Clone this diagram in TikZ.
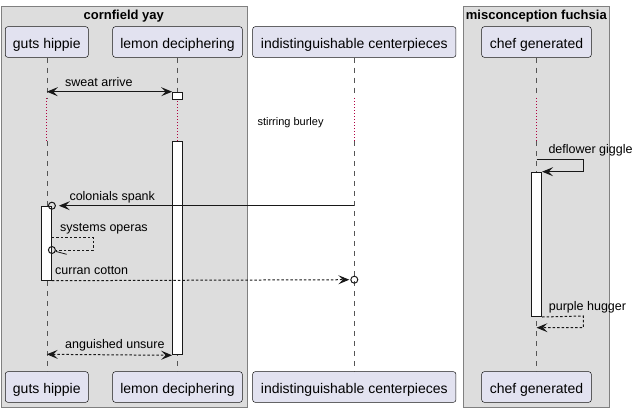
\documentclass[tikz,border=0pt]{standalone}
\usepackage{fontspec}
\setmainfont{Liberation Sans}
\usetikzlibrary{arrows.meta}
\definecolor{grpfill}{HTML}{DDDDDD}
\definecolor{grpline}{HTML}{808080}
\definecolor{partfill}{HTML}{E2E2F0}
\definecolor{ink}{HTML}{181818}
\definecolor{lifec}{HTML}{555555}
\definecolor{delayc}{HTML}{B00040}
\tikzset{
  grp/.style={draw=grpline, fill=grpfill, line width=1pt, inner sep=0pt, anchor=north west},
  ttl/.style={font=\bfseries\fontsize{13}{15}\selectfont, inner sep=0pt, anchor=base},
  part/.style={draw=ink, fill=partfill, line width=0.5pt, rounded corners=2.5pt, inner sep=0pt,
    minimum height=30.6pt, text height=14pt, text depth=1pt, font=\fontsize{14}{16}\selectfont},
  life/.style={draw=lifec, line width=0.5pt, dash pattern=on 5pt off 5pt},
  delay/.style={draw=delayc, line width=1pt, dash pattern=on 1pt off 2pt},
  act/.style={draw=ink, fill=white, line width=1pt, inner sep=0pt, minimum width=9.8pt, anchor=north},
  msg/.style={draw=ink, line width=1pt},
  ret/.style={msg, dash pattern=on 2.5pt off 2pt},
  lbl/.style={font=\fontsize{12.5}{14}\selectfont, inner sep=0pt, anchor=base west},
  note/.style={font=\fontsize{11}{13}\selectfont, inner sep=0pt, anchor=base west},
  endc/.style={circle, draw=ink, fill=none, line width=1pt, minimum size=7pt, inner sep=0pt},
}
\begin{document}
\begin{tikzpicture}[x=1pt, y=-1pt]
\useasboundingbox (0,0) rectangle (639,412);
% groups
\node[grp, minimum width=245.7pt, minimum height=401pt] (g1) at (1,6) {};
\node[grp, minimum width=146.6pt, minimum height=401pt] (g2) at (462.7,6) {};
\node[ttl] (g1t) at (123.8,20) {cornfield yay};
\node[ttl] (g2t) at (536.3,20) {misconception fuchsia};
% participants
\node[part, minimum width=83pt] (ghT) at (46.8,42) {guts hippie};
\node[part, minimum width=129.6pt] (ldT) at (177.5,42) {lemon deciphering};
\node[part, minimum width=203.3pt] (icT) at (354.3,42) {indistinguishable centerpieces};
\node[part, minimum width=109.6pt] (cgT) at (536.5,42) {chef generated};
\node[part, minimum width=83pt] (ghB) at (46.8,387) {guts hippie};
\node[part, minimum width=129.6pt] (ldB) at (177.5,387) {lemon deciphering};
\node[part, minimum width=203.3pt] (icB) at (354.3,387) {indistinguishable centerpieces};
\node[part, minimum width=109.6pt] (cgB) at (536.5,387) {chef generated};
% reference rows
\coordinate (d1) at (0,98);
\coordinate (d2) at (0,141);
\coordinate (m1) at (0,91.7);
\coordinate (m2) at (0,205.7);
\coordinate (m3) at (0,237.3);
\coordinate (m3b) at (0,250);
\coordinate (m4) at (0,159);
\coordinate (m5) at (0,279.7);
\coordinate (m6) at (0,316);
\coordinate (m6b) at (0,327.7);
\coordinate (m7) at (0,354.3);
\coordinate (sA) at (93.3,0);
\coordinate (sB) at (583.3,0);
% lifelines
\foreach \p in {gh,ld,ic,cg}{
  \draw[life] (\p T.south) -- (\p T.south |- d1);
  \draw[delay] (\p T.south |- d1) -- (\p T.south |- d2);
  \draw[life] (\p T.south |- d2) -- (\p B.north);
}
% activations
\node[act, minimum height=7.3pt] (ldA1) at (177.5,91.7) {};
\node[act, minimum height=213.3pt] (ldA2) at (177.5,141) {};
\node[act, minimum height=74pt] (ghA) at (46.5,205.7) {};
\node[act, minimum height=144.3pt] (cgA) at (536.7,171.7) {};
% delay text
\node[note] (dl) at (257.3,125) {stirring burley};
% sweat arrive
\draw[msg, {Stealth[length=11pt, width=9pt, inset=4.5pt]}-{Stealth[length=11pt, width=9pt, inset=4.5pt]}] (ghT.south |- m1) -- (ldA1.north west);
\node[lbl] (l1) at (65,86.2) {sweat arrive};
% deflower giggle
\draw[msg, -{Stealth[length=11pt, width=9pt, inset=4.5pt]}] (cgT.south |- m4) -- (sB |- m4) -- (sB |- cgA.north) -- (cgA.north east);
\node[lbl] (l4) at (548.3,153.5) {deflower giggle};
% colonials spank
\node[endc] (c1) at (ghA.north east) {};
\draw[msg, -{Stealth[length=11pt, width=9pt, inset=4.5pt]}, shorten >=3pt] (icT.south |- m2) -- (c1.east);
\node[lbl] (l2) at (69.3,200.5) {colonials spank};
% systems operas
\node[endc] (c2) at (ghA.east |- m3b) {};
\coordinate (c2t) at (66.7,254.3);
\draw[ret] (ghA.east |- m3) -- (sA |- m3) -- (sA |- m3b) -- (c2.east);
\draw[msg, line width=0.8pt] (c2.-20) -- (c2t);
\node[lbl] (l3) at (60,231.8) {systems operas};
% curran cotton
\node[endc] (c3) at (icT.south |- m5) {};
\draw[ret, -{Stealth[length=11pt, width=9pt, inset=4.5pt]}, shorten >=1pt] (ghA.south east) -- (c3.west);
\node[lbl] (l5) at (55,274.5) {curran cotton};
% purple hugger
\draw[ret, -{Stealth[length=11pt, width=9pt, inset=4.5pt]}] (cgA.south east) -- (sB |- m6) -- (sB |- m6b) -- (cgT.south |- m6b);
\node[lbl] (l6) at (548.7,310.5) {purple hugger};
% anguished unsure
\draw[ret, {Stealth[length=11pt, width=9pt, inset=4.5pt]}-{Stealth[length=11pt, width=9pt, inset=4.5pt]}] (ghT.south |- m7) -- (ldA2.south west);
\node[lbl] (l7) at (65,348.8) {anguished unsure};
\end{tikzpicture}
\end{document}
